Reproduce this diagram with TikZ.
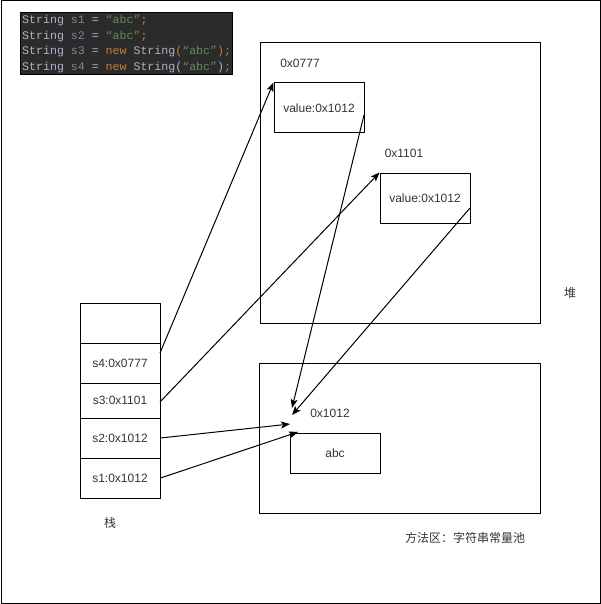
\documentclass[tikz,border=0pt]{standalone}
\usepackage{fontspec}
\setmainfont{Liberation Sans}
\setmonofont{Liberation Mono}
\newfontfamily\cjk{Noto Sans CJK SC}
\usetikzlibrary{arrows.meta}
\definecolor{codebg}{HTML}{2B2B2B}
\definecolor{codefg}{HTML}{A9B7C6}
\definecolor{codevar}{HTML}{9876AA}
\definecolor{codestr}{HTML}{6A8759}
\definecolor{codekw}{HTML}{CC7832}
\definecolor{txt}{HTML}{333333}
\newcommand{\cv}[1]{\textcolor{codevar}{#1}}
\newcommand{\cs}[1]{\textcolor{codestr}{#1}}
\newcommand{\ck}[1]{\textcolor{codekw}{#1}}
\tikzset{
  box/.style={draw, line width=1pt, rectangle, inner sep=0pt, font=\fontsize{12}{14}\selectfont, text=txt},
  lbl/.style={font=\fontsize{12}{14}\selectfont, text=txt, inner sep=0pt},
  cjklbl/.style={font=\cjk\fontsize{12}{14}\selectfont, text=txt, inner sep=0pt},
  code/.style={anchor=west, inner sep=0pt, font=\ttfamily\fontsize{11.6}{13}\selectfont, text=codefg},
  arr/.style={line width=1pt, -{Stealth[length=9pt,width=7pt,inset=2pt]}}
}
\begin{document}
\begin{tikzpicture}[x=1pt,y=-1pt]
\useasboundingbox (0,0) rectangle (601,604);
\draw[line width=1pt] (1,1) rectangle (600,603);
% code block
\fill[codebg] (20,13) rectangle (232,75);
\draw[line width=1pt,black] (20,13) rectangle (232,75);
\node[code] (c1) at (22,21) {String \cv{s1} = \cs{“abc”}\ck{;}};
\node[code] (c2) at (22,36.5) {String \cv{s2} = \cs{“abc”}\ck{;}};
\node[code] (c3) at (22,52) {String \cv{s3} = \ck{new} String\ck{(}\cs{“abc”}\ck{);}};
\node[code] (c4) at (22,67.5) {String \cv{s4} = \ck{new} String(\cs{“abc”})\ck{;}};
% heap
\node[box, minimum width=280pt, minimum height=280pt] (heap) at (400,183) {};
\node[box, minimum width=90pt, minimum height=50pt] (objA) at (319,108) {value:0x1012};
\node[lbl] (labA) at (300,63) {0x0777};
\node[box, minimum width=90pt, minimum height=50pt] (objB) at (425,198) {value:0x1012};
\node[lbl] (labB) at (404,153) {0x1101};
\node[cjklbl] (heaplbl) at (570,293) {堆};
% method area
\node[box, minimum width=281pt, minimum height=150pt] (method) at (399.5,438) {};
\node[box, minimum width=90pt, minimum height=40pt] (abc) at (335,453) {abc};
\node[lbl] (labC) at (330,413) {0x1012};
\node[cjklbl] (methodlbl) at (465,538) {方法区：字符串常量池};
% stack
\node[box, minimum width=80pt, minimum height=40pt] (st0) at (120,323) {};
\node[box, minimum width=80pt, minimum height=40pt] (s4) at (120,363) {s4:0x0777};
\node[box, minimum width=80pt, minimum height=35pt] (s3) at (120,400.5) {s3:0x1101};
\node[box, minimum width=80pt, minimum height=40pt] (s2) at (120,438) {s2:0x1012};
\node[box, minimum width=80pt, minimum height=40pt] (s1) at (120,478) {s1:0x1012};
\node[cjklbl] (stacklbl) at (110,523) {栈};
% arrow endpoints
\coordinate (tA) at (292,408);
\coordinate (tB) at (292,415);
\coordinate (t2) at (290,424);
\coordinate (t1) at (298,432);
\coordinate (s4e) at (160,353);
\coordinate (s3e) at (160,402);
\coordinate (aS) at (364,115);
\coordinate (bS) at (470,208);
\draw[arr] (s4e) -- (objA.north west);
\draw[arr] (s3e) -- (objB.north west);
\draw[arr] (aS) -- (tA);
\draw[arr] (bS) -- (tB);
\draw[arr] (s2.east) -- (t2);
\draw[arr] (s1.east) -- (t1);
\end{tikzpicture}
\end{document}
